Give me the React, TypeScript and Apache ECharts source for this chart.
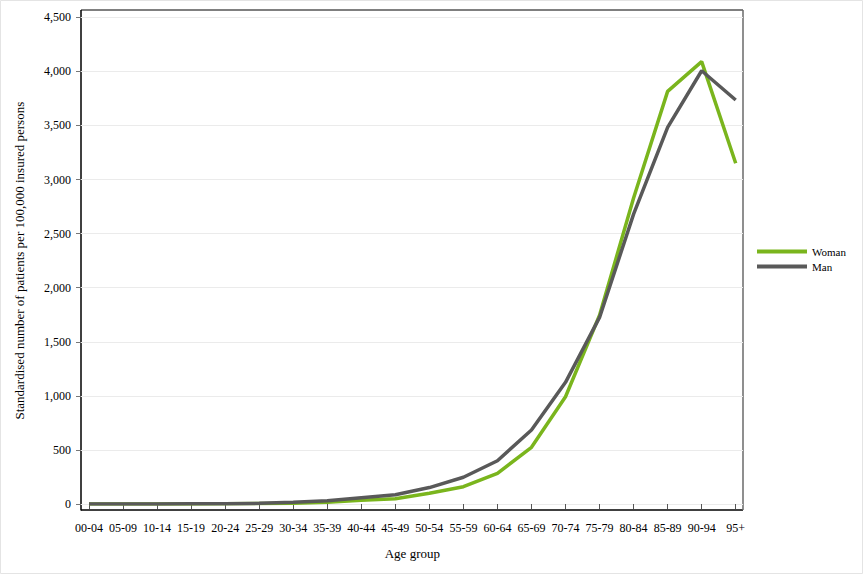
import React, { useEffect, useRef } from "react";
import * as echarts from "echarts";

const categories = ["00-04","05-09","10-14","15-19","20-24","25-29","30-34","35-39","40-44","45-49","50-54","55-59","60-64","65-69","70-74","75-79","80-84","85-89","90-94","95+"];
const woman = [0,0,0,1,2,4,7,16,35,48,100,160,284,524,992,1745,2830,3815,4090,3150];
const man = [0,0,0,2,3,6,16,31,58,85,152,247,400,684,1125,1725,2680,3483,4006,3735];
const yTicks = { min: 0, max: 4500, interval: 500 };

const FONT = "'Liberation Serif', 'Times New Roman', serif";

export default function App() {
  const ref = useRef<HTMLDivElement>(null);
  useEffect(() => {
    if (!ref.current) return;
    const chart = echarts.init(ref.current, undefined, { renderer: "svg" });
    const fmt = (v: number) => v.toLocaleString("en-US");
    chart.setOption({
      animation: false,
      backgroundColor: "#fff",
      textStyle: { fontFamily: FONT, color: "#000" },
      grid: [
        { left: 89, right: 128.3, top: 17.3, bottom: 72, containLabel: false },
        { left: 81, right: 121, top: 17.3, bottom: 72, containLabel: false },
      ],
      xAxis: [
        {
          type: "category",
          gridIndex: 0,
          data: categories,
          boundaryGap: false,
          offset: 6,
          axisLine: { show: false },
          axisTick: { show: true, length: 5, lineStyle: { color: "#555" } },
          axisLabel: { margin: 12, fontSize: 12, fontFamily: FONT, color: "#000", interval: 0 },
          name: "Age group",
          nameLocation: "middle",
          nameGap: 37,
          nameTextStyle: { fontSize: 13, fontFamily: FONT, color: "#000" },
        },
        { type: "value", gridIndex: 1, show: false, min: 0, max: 1 },
      ],
      yAxis: [
        {
          type: "value",
          gridIndex: 0,
          min: yTicks.min,
          max: yTicks.max,
          interval: yTicks.interval,
          offset: 8,
          axisLine: { show: false },
          axisTick: { show: true, length: 5, lineStyle: { color: "#777" } },
          axisLabel: { margin: 10, fontSize: 12, fontFamily: FONT, color: "#000", formatter: fmt },
          splitLine: { show: false },
          name: "Standardised number of patients per 100,000 insured persons",
          nameLocation: "middle",
          nameGap: 55,
          nameTextStyle: { fontSize: 13, fontFamily: FONT, color: "#000" },
        },
        {
          type: "value",
          gridIndex: 1,
          min: yTicks.min,
          max: yTicks.max,
          interval: yTicks.interval,
          axisLine: { show: false },
          axisTick: { show: false },
          axisLabel: { show: false },
          splitLine: { show: true, lineStyle: { color: "#ebebeb", width: 1 } },
        },
      ],
      legend: {
        orient: "vertical",
        left: 752,
        top: 241,
        icon: "rect",
        itemWidth: 50,
        itemHeight: 4,
        itemGap: 4,
        textStyle: { fontSize: 11, fontFamily: FONT, color: "#000", padding: [0, 0, 0, 0] },
        data: ["Woman", "Man"],
      },
      graphic: [
        {
          type: "rect",
          shape: { x: 0.5, y: 0.5, width: 862, height: 573 },
          style: { fill: "none", stroke: "#e4e4e4", lineWidth: 1 },
          silent: true,
          z: -1,
        },
        {
          type: "line",
          shape: { x1: 81, y1: 10, x2: 743, y2: 10 },
          style: { stroke: "#000", lineWidth: 1 },
          silent: true,
        },
        {
          type: "line",
          shape: { x1: 81, y1: 10, x2: 81, y2: 510.5 },
          style: { stroke: "#000", lineWidth: 1.5 },
          silent: true,
        },
        {
          type: "line",
          shape: { x1: 81, y1: 510, x2: 743, y2: 510 },
          style: { stroke: "#000", lineWidth: 1.5 },
          silent: true,
        },
        {
          type: "line",
          shape: { x1: 743, y1: 10, x2: 743, y2: 510 },
          style: { stroke: "#6a6a6a", lineWidth: 1.5 },
          silent: true,
        },
      ],
      series: [
        {
          name: "Woman",
          type: "line",
          xAxisIndex: 0,
          yAxisIndex: 0,
          data: woman,
          symbol: "none",
          lineStyle: { color: "#7ab51d", width: 3.5 },
          itemStyle: { color: "#7ab51d" },
          z: 2,
        },
        {
          name: "Man",
          type: "line",
          xAxisIndex: 0,
          yAxisIndex: 0,
          data: man,
          symbol: "none",
          lineStyle: { color: "#595959", width: 3.5 },
          itemStyle: { color: "#595959" },
          z: 3,
        },
      ],
    });
    return () => chart.dispose();
  }, []);
  return (
    <div
      ref={ref}
      style={{ position: "fixed", left: 0, top: 0, width: 864, height: 576 }}
    />
  );
}
